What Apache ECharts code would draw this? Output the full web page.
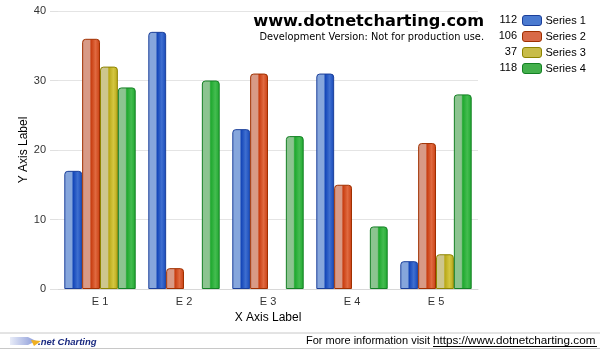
<!DOCTYPE html>
<html><head><meta charset="utf-8">
<script src="https://cdn.jsdelivr.net/npm/echarts@6/dist/echarts.min.js"></script>
<style>html,body{margin:0;padding:0;background:#fff}#c{width:600px;height:350px}</style>
</head><body><div id="c"></div>
<script>
var categories = ['E 1', 'E 2', 'E 3', 'E 4', 'E 5'];
var seriesNames = ['Series 1', 'Series 2', 'Series 3', 'Series 4'];
var series1 = [17, 37, 23, 31, 4];
var series2 = [36, 3, 31, 15, 21];
var series3 = [32, null, null, null, 5];
var series4 = [29, 30, 22, 9, 28];
var yTicks = [0, 10, 20, 30, 40];

var palettes = [
  {light: '#86a6dc', mid: '#3f6fd0', dark: '#1446b8', border: '#1b3f9a', legend: '#4a7ad0'},
  {light: '#d89a86', mid: '#e06a40', dark: '#c83d10', border: '#a03000', legend: '#d86a48'},
  {light: '#cdc68e', mid: '#d4c640', dark: '#b8a818', border: '#8e8400', legend: '#c8bc48'},
  {light: '#8cc490', mid: '#44bc50', dark: '#1ea82e', border: '#148024', legend: '#44b04c'}
];
function grad(p) {
  return new echarts.graphic.LinearGradient(0, 0, 1, 0, [
    {offset: 0, color: p.light},
    {offset: 0.42, color: p.light},
    {offset: 0.5, color: p.dark},
    {offset: 0.75, color: p.mid},
    {offset: 1, color: p.dark}
  ]);
}
var allData = [series1, series2, series3, series4];
var totals = allData.map(function (a) { return a.reduce(function (s, v) { return s + (v || 0); }, 0); });

var chart = echarts.init(document.getElementById('c'), null, {renderer: 'canvas'});
var font = 'Liberation Sans, Arial, sans-serif';
var option = {
  animation: false,
  backgroundColor: '#fff',
  grid: {left: 58, right: 122, top: 11, bottom: 61},
  title: [
    {text: 'www.dotnetcharting.com', right: 116, top: 14, padding: 0,
     textStyle: {fontFamily: 'DejaVu Sans, Verdana, sans-serif', fontWeight: 'bold', fontSize: 16.2, color: '#000'}},
    {text: 'Development Version: Not for production use.', right: 116, top: 32, padding: 0,
     textStyle: {fontFamily: 'DejaVu Sans, Tahoma, sans-serif', fontWeight: 'normal', fontSize: 9.8, color: '#000'}}
  ],
  legend: {
    orient: 'vertical', left: 522, top: 15, itemGap: 5, itemWidth: 19, itemHeight: 10,
    padding: 0, icon: 'roundRect', align: 'left',
    textStyle: {fontFamily: font, fontSize: 11, color: '#000', padding: [0, 0, 0, -1]},
    data: seriesNames.map(function (n, i) {
      return {name: n, itemStyle: {color: palettes[i].legend, borderColor: palettes[i].border, borderWidth: 1}};
    })
  },
  graphic: totals.map(function (t, i) {
    return {type: 'text', right: 83, top: 14 + i * 16,
      style: {text: String(t), fontFamily: font, fontSize: 11, fill: '#000', textAlign: 'right'}};
  }).concat([
    {type: 'line', shape: {x1: 0, y1: 333, x2: 600, y2: 333}, style: {stroke: '#c8c8c8', lineWidth: 1}},
    {type: 'line', shape: {x1: 0, y1: 348.5, x2: 600, y2: 348.5}, style: {stroke: '#c8c8c8', lineWidth: 1}},
    {type: 'polygon', shape: {points: [[10, 337], [28, 337], [36, 341], [28, 345], [10, 345]]},
     style: {fill: new echarts.graphic.LinearGradient(0, 0, 1, 0, [{offset: 0, color: '#e8ecf8'}, {offset: 1, color: '#8a9ad8'}])}},
    {type: 'polygon', shape: {points: [[31, 340], [41, 341], [34, 346]]}, style: {fill: '#f0b020'}},
    {type: 'text', left: 38, top: 337,
     style: {text: '.net Charting', fontFamily: 'Liberation Sans, Arial, sans-serif', fontSize: 9.5, fontWeight: 'bold', fontStyle: 'italic', fill: '#1a2a80'}},
    {type: 'text', left: 306, top: 335,
     style: {text: 'For more information visit', fontFamily: font, fontSize: 11, fill: '#000'}},
    {type: 'text', left: 433, top: 335,
     style: {text: 'https://www.dotnetcharting.com', fontFamily: font, fontSize: 11.7, fill: '#000'}},
    {type: 'line', shape: {x1: 433, y1: 346.5, x2: 597, y2: 346.5}, style: {stroke: '#000', lineWidth: 1}}
  ]),
  xAxis: {
    type: 'category', data: categories,
    name: 'X Axis Label', nameLocation: 'middle', nameGap: 20,
    nameTextStyle: {fontFamily: font, fontSize: 12, color: '#000'},
    axisLine: {lineStyle: {color: '#d8d8d8'}},
    axisTick: {alignWithLabel: true, length: 5, lineStyle: {color: '#d8d8d8'}, interval: 0},
    axisLabel: {fontFamily: font, fontSize: 11, color: '#333', margin: 7}
  },
  yAxis: {
    type: 'value', min: 0, max: 40, interval: 10,
    name: 'Y Axis Label', nameLocation: 'middle', nameGap: 28, nameMoveOverlap: false,
    nameTextStyle: {fontFamily: font, fontSize: 12, color: '#000'},
    axisLine: {show: false},
    axisTick: {show: true, length: 8, lineStyle: {color: '#e0e0e0'}},
    splitLine: {lineStyle: {color: '#e4e4e4'}},
    axisLabel: {fontFamily: font, fontSize: 11, color: '#333', margin: 12,
      formatter: function (v) { return yTicks.indexOf(v) >= 0 ? String(v) : ''; }}
  },
  series: allData.map(function (d, i) {
    return {
      name: seriesNames[i], type: 'bar', data: d,
      barGap: '0%', barCategoryGap: '15%',
      itemStyle: {color: grad(palettes[i]), borderColor: palettes[i].border, borderWidth: 1, borderRadius: [3, 3, 0, 0]}
    };
  })
};
chart.setOption(option);
</script></body></html>
